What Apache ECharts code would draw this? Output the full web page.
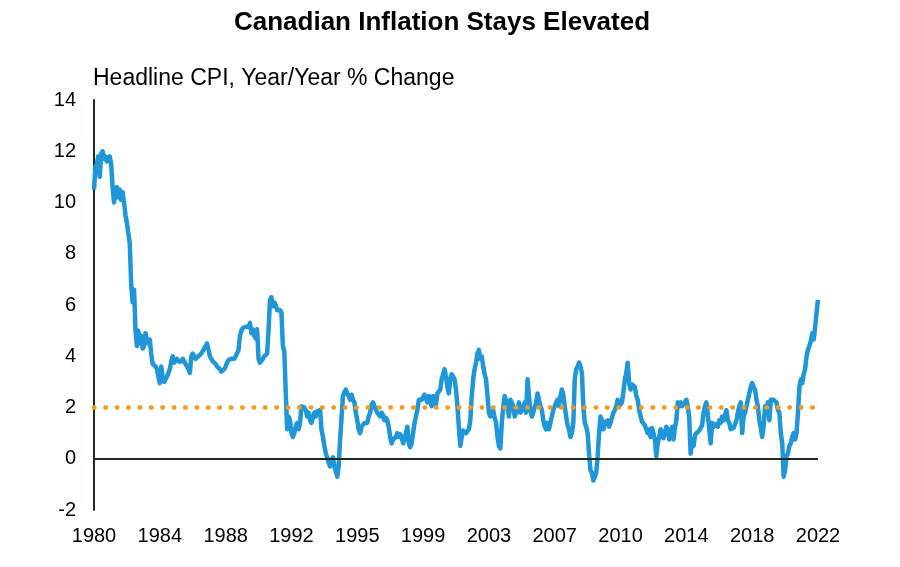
<!DOCTYPE html>
<html>
<head>
<meta charset="utf-8">
<script src="https://cdn.jsdelivr.net/npm/echarts@6/dist/echarts.min.js"></script>
<style>
  html, body { margin: 0; padding: 0; background: #fff; }
  #chart { width: 900px; height: 567px; }
</style>
</head>
<body>
<div id="chart"></div>
<script>
// headline CPI y/y %, monthly from Jan 1980
var cpi1980s = [
  10.5, 11.4, 11.5, 11.8, 11.0, 11.9, 12.0, 11.7, 11.8, 11.6,
  11.6, 11.8, 11.5, 10.6, 10.0, 10.4, 10.6, 10.2, 10.5, 10.1,
  10.4, 10.0, 9.5, 9.2, 9.2, 8.4, 6.8, 6.1, 6.6, 5.0,
  4.4, 5.0, 4.5, 4.8, 4.3, 4.4, 4.9, 4.6, 4.5, 4.65,
  4.1, 3.7, 3.75, 3.6, 3.5, 3.2, 2.95, 3.6, 3.2, 3.0,
  2.95, 3.2, 3.35, 3.5, 3.8, 4.0, 3.75, 3.8, 3.9, 3.8,
  3.75, 3.8, 3.9, 3.8, 3.7, 3.6, 3.5, 3.35, 4.0, 4.1,
  4.0, 3.9, 3.9, 4.0, 4.0, 4.1, 4.1, 4.3, 4.4, 4.5,
  4.25, 4.0, 3.9, 3.8, 3.75, 3.7, 3.6, 3.55, 3.5, 3.4,
  3.35, 3.5, 3.6, 3.75, 3.85, 3.9, 3.9, 3.85, 3.9, 4.0,
  4.0, 4.25, 4.8, 5.0, 5.1, 5.05, 5.15, 5.15, 5.15, 5.3,
  4.9, 5.05, 4.8, 4.7, 5.05, 3.9, 3.75, 3.8, 3.9, 4.0
];
var cpi1990s = [
  4.0, 4.1, 5.05, 6.2, 6.3, 5.95, 6.1, 6.0, 5.8, 5.8,
  5.8, 5.7, 4.4, 4.2, 2.6, 1.15, 1.65, 1.5, 1.0, 0.85,
  1.0, 1.25, 1.4, 1.15, 1.4, 2.05, 2.1, 2.0, 1.9, 1.65,
  1.8, 1.5, 1.4, 1.6, 1.8, 1.65, 1.85, 1.8, 1.9, 1.15,
  0.85, 0.5, 0.2, 0.05, -0.15, -0.3, -0.05, 0.05, -0.3, -0.3,
  -0.7, -0.3, 0.75, 1.6, 2.45, 2.6, 2.7, 2.55, 2.45, 2.3,
  2.5, 2.3, 2.2, 1.8, 1.5, 1.15, 1.0, 1.25, 1.25, 1.4,
  1.4, 1.4, 1.65, 1.8, 2.1, 2.2, 2.05, 2.0, 1.8, 1.85,
  1.65, 1.8, 1.7, 1.5, 1.6, 1.5, 1.25, 0.85, 0.6, 0.75,
  0.8, 0.85, 1.0, 0.85, 0.95, 0.85, 0.6, 0.75, 1.0, 1.25,
  0.6, 0.45, 0.6, 1.0, 1.4, 1.65, 1.9, 2.3, 2.25, 2.3,
  2.35, 2.5, 2.55, 2.2, 2.45, 2.3, 2.05, 2.45, 2.2, 2.1
];
var cpi2000s = [
  2.55, 2.5, 2.7, 3.1, 3.3, 3.5, 3.2, 2.8, 2.55, 3.1,
  3.3, 3.35, 3.1, 2.7, 2.05, 1.25, 0.5, 0.85, 1.1, 1.15,
  1.0, 1.0, 1.15, 1.5, 2.45, 3.1, 3.5, 3.75, 4.1, 4.25,
  3.9, 4.0, 3.6, 3.3, 3.1, 2.45, 1.8, 1.65, 1.8, 1.9,
  1.6, 1.4, 0.85, 0.5, 0.4, 1.4, 2.0, 2.45, 2.45, 2.05,
  1.65, 2.3, 2.2, 2.05, 1.65, 1.8, 1.9, 2.2, 1.8, 1.9,
  2.0, 2.2, 1.8, 3.1, 2.45, 1.9, 1.65, 1.8, 2.0, 2.2,
  2.55, 2.3, 2.05, 1.9, 1.5, 1.25, 1.15, 1.4, 1.15, 1.4,
  1.65, 1.9, 2.05, 2.2, 2.3, 2.05, 2.45, 2.7, 2.5, 2.05,
  1.65, 1.3, 1.15, 0.85, 1.0, 1.4, 3.1, 3.5, 3.6, 3.75,
  3.6, 3.35, 2.05, 1.4, 1.25, 1.0, 0.2, -0.45, -0.55, -0.85,
  -0.7, -0.55, 0.1, 1.0, 1.65, 1.5, 1.15, 1.4, 1.4, 1.5
];
var cpi2010s = [
  1.25, 1.4, 1.6, 1.8, 1.9, 2.05, 2.3, 2.05, 2.1, 2.2,
  2.6, 3.1, 3.35, 3.75, 2.95, 2.7, 2.9, 2.95, 2.8, 2.45,
  2.3, 1.9, 1.65, 1.45, 1.5, 1.3, 1.25, 1.0, 1.15, 0.85,
  1.2, 1.0, 0.75, 0.1, 0.6, 0.85, 1.15, 1.0, 0.8, 0.75,
  1.25, 1.15, 0.75, 0.9, 1.25, 0.75, 1.2, 1.5, 2.2, 2.05,
  2.2, 2.05, 2.1, 2.2, 2.3, 2.05, 1.6, 0.2, 0.7, 0.5,
  0.9, 1.0, 1.0, 1.1, 1.1, 1.3, 1.8, 2.05, 2.2, 1.7,
  1.15, 0.6, 1.4, 1.25, 1.35, 1.4, 1.25, 1.5, 1.4, 1.65,
  1.5, 1.5, 1.9, 1.5, 1.4, 1.15, 1.15, 1.2, 1.25, 1.5,
  1.8, 2.05, 2.2, 1.0, 1.65, 1.8, 2.05, 2.3, 2.55, 2.8,
  2.95, 2.8, 2.7, 2.3, 2.05, 1.5, 1.2, 0.85, 1.25, 2.05,
  1.8, 2.2, 1.5, 2.3, 2.3, 2.3, 2.3, 2.2, 1.9, 1.8
];
var cpi2020s = [
  1.0, 0.6, -0.7, -0.45, 0.1, 0.2, 0.5, 0.6, 0.85, 1.0,
  0.75, 1.0, 1.8, 2.8, 3.1, 2.95, 3.3, 3.5, 4.0, 4.25,
  4.4, 4.6, 4.9, 4.65, 5.15, 5.7, 6.2
];
var tickLabels = ['1980', '1984', '1988', '1992', '1995', '1999', '2003', '2007', '2010', '2014', '2018', '2022'];
var targetRate = 2;

var cpi = cpi1980s.concat(cpi1990s, cpi2000s, cpi2010s, cpi2020s);
var labelStep = (cpi.length - 1) / (tickLabels.length - 1);

// month categories, Jan 1980 onward
var months = [];
for (var i = 0; i < cpi.length; i++) {
  var y = 1980 + Math.floor(i / 12), m = i % 12 + 1;
  months.push(y + '-' + (m < 10 ? '0' + m : m));
}

var chart = echarts.init(document.getElementById('chart'));
var font = '"Liberation Sans", Arial, sans-serif';

chart.setOption({
  animation: false,
  backgroundColor: '#fff',
  title: [
    {
      text: 'Canadian Inflation Stays Elevated',
      left: 437,
      top: 5,
      textAlign: 'center',
      textStyle: { fontFamily: font, fontSize: 26, fontWeight: 'bold', color: '#000' }
    },
    {
      text: 'Headline CPI, Year/Year % Change',
      left: 88,
      top: 62,
      textStyle: { fontFamily: font, fontSize: 23, fontWeight: 'normal', color: '#000' }
    }
  ],
  grid: { left: 94, right: 82, top: 100, bottom: 57 },
  xAxis: {
    type: 'category',
    data: months,
    boundaryGap: false,
    axisLine: { show: false },
    axisTick: { show: false },
    splitLine: { show: false },
    axisLabel: {
      interval: function (idx) { return idx % labelStep === 0; },
      formatter: function (v, idx) { return tickLabels[idx / labelStep]; },
      fontFamily: font,
      fontSize: 20,
      color: '#000',
      margin: 16
    }
  },
  yAxis: {
    type: 'value',
    min: -2,
    max: 14,
    interval: 2,
    axisLine: { show: true, lineStyle: { color: '#1E2B1E', width: 2 } },
    axisTick: { show: false },
    splitLine: { show: false },
    axisLabel: { fontFamily: font, fontSize: 20, color: '#000', margin: 18 }
  },
  series: [
    {
      name: 'Headline CPI',
      type: 'line',
      data: cpi,
      showSymbol: false,
      symbol: 'none',
      lineStyle: { color: '#1E96D7', width: 4.5, join: 'round' },
      markLine: {
        silent: true,
        symbol: 'none',
        label: { show: false },
        data: [
          { yAxis: 0, lineStyle: { color: '#1E2B1E', width: 2, type: 'solid' } },
          { yAxis: targetRate, lineStyle: { color: '#F39A1E', width: 4.5, type: [0.5, 10.9], cap: 'round' } }
        ]
      }
    }
  ]
});
</script>
</body>
</html>
